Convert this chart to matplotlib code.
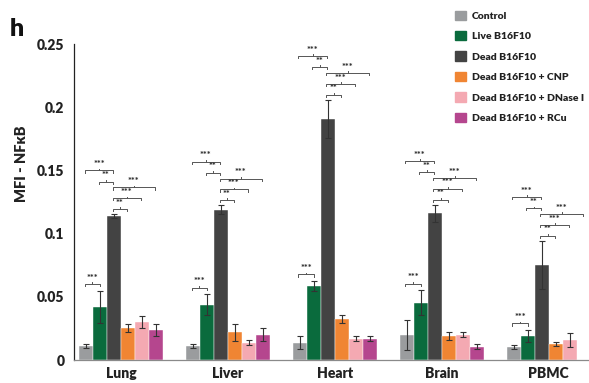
import matplotlib.pyplot as plt
import numpy as np

plt.rcParams['font.family'] = ['Lato', 'DejaVu Sans']
plt.rcParams['font.weight'] = 'heavy'

tissues = ['Lung', 'Liver', 'Heart', 'Brain', 'PBMC']
groups = ['Control', 'Live B16F10', 'Dead B16F10', 'Dead B16F10 + CNP',
          'Dead B16F10 + DNase I', 'Dead B16F10 + RCu']
colors = ['#9a9c9e', '#0a6b3d', '#434343', '#f08533', '#f4a9b2', '#b5468e']

# rows = tissues, columns = groups (nan = not measured)
mfi = np.array([
    [0.011, 0.042, 0.114, 0.0255, 0.030, 0.0238],
    [0.011, 0.0438, 0.119, 0.022, 0.0138, 0.020],
    [0.0138, 0.0587, 0.191, 0.0324, 0.0170, 0.0170],
    [0.020, 0.0454, 0.116, 0.0189, 0.0200, 0.0105],
    [0.0100, 0.0190, 0.0754, 0.0125, 0.0160, np.nan],
])
err = np.array([
    [0.0015, 0.013, 0.0015, 0.003, 0.005, 0.005],
    [0.0015, 0.0085, 0.0035, 0.0068, 0.002, 0.005],
    [0.005, 0.004, 0.015, 0.003, 0.002, 0.002],
    [0.012, 0.010, 0.007, 0.003, 0.002, 0.0018],
    [0.0015, 0.005, 0.019, 0.0015, 0.0055, np.nan],
])

# significance: (bar i, bar j, label)
sig_top = [(0, 2, '***'), (1, 2, '**'), (2, 5, '***'), (2, 4, '***'), (2, 3, '**')]
sig_top_offset = [0.0345, 0.0257, 0.021, 0.0125, 0.004]
sig_low = (0, 1, '***')

group_step = 7.643
n_bars = len(groups)

fig = plt.figure(figsize=(5.89, 3.83), dpi=100)
ax = fig.add_axes([0.1256, 0.060, 0.874, 0.825])


def bracket(ax, x1, x2, y, label):
    d = 0.0017
    xm = (x1 + x2) / 2
    ax.plot([x1, x1, x2, x2], [y - d, y, y, y - d], color='#555555', lw=0.7)
    ax.plot([xm, xm], [y, y + d * 0.8], color='#555555', lw=0.7)
    ax.text(xm, y + 0.0010, label, ha='center', va='bottom', fontsize=6.5,
            color='#333333')


for t in range(len(tissues)):
    xs = t * group_step + np.arange(n_bars)
    for b in range(n_bars):
        if np.isnan(mfi[t, b]):
            continue
        ax.bar(xs[b], mfi[t, b], width=1.0, color=colors[b],
               edgecolor='white', linewidth=0.3, zorder=2)
        ax.errorbar(xs[b], mfi[t, b], yerr=err[t, b], fmt='none',
                    ecolor='#333333', elinewidth=0.8, capsize=2.2,
                    capthick=0.8, zorder=3)
    top = mfi[t, 2] + err[t, 2]
    for (i, j, lab), off in zip(sig_top, sig_top_offset):
        bracket(ax, xs[i] - 0.1, xs[j] - 0.05, top + off, lab)
    i, j, lab = sig_low
    bracket(ax, xs[i] - 0.1, xs[j], mfi[t, 1] + err[t, 1] + 0.005, lab)

ax.set_xlim(-0.857, 35.93)
ax.set_ylim(0, 0.25)
ax.set_yticks([0, 0.05, 0.1, 0.15, 0.2, 0.25])
ax.set_yticklabels(['0', '0.05', '0.1', '0.15', '0.2', '0.25'])
ax.set_xticks(np.arange(len(tissues)) * group_step + 2.5)
ax.set_xticklabels(tissues)
ax.tick_params(axis='y', length=0, pad=7, labelsize=10, labelcolor='#222222')
ax.tick_params(axis='x', length=0, pad=5, labelsize=10, labelcolor='#222222')

for side in ['top', 'right']:
    ax.spines[side].set_visible(False)
ax.spines['left'].set_color('#222222')
ax.spines['left'].set_linewidth(0.9)
ax.spines['bottom'].set_color('#8a8a8a')
ax.spines['bottom'].set_linewidth(0.9)

handles = [plt.Rectangle((0, 0), 1, 1, color=c) for c in colors]
fig.legend(handles, groups, loc='upper left', bbox_to_anchor=(0.757, 0.997),
           frameon=False, fontsize=7.5, handlelength=1.0, handleheight=1.0,
           handletextpad=0.6, labelspacing=0.98, labelcolor='#222222')

fig.text(22 / 589, 0.572, 'MFI - NFκB', rotation=90, ha='center',
         va='center', fontsize=10.5, color='#222222')
fig.text(10 / 589, 0.905, 'h', fontsize=18, color='#111111')

fig.savefig('out.png', dpi=100)
